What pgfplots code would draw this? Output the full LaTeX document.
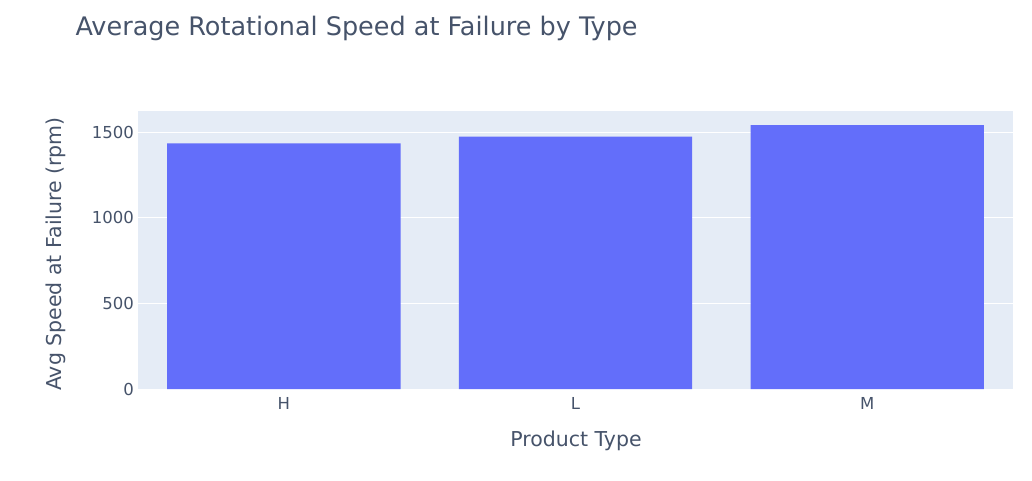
\documentclass[border=0pt]{standalone}
\usepackage{pgfplots}
\pgfplotsset{compat=1.18}
\usepackage{fontspec}
\setmainfont{DejaVu Sans}
\definecolor{plotbg}{HTML}{E5ECF6}
\definecolor{barblue}{HTML}{636EFA}
\definecolor{txt}{HTML}{46536A}
\begin{document}
\begin{tikzpicture}[x=1pt,y=1pt]
  \useasboundingbox (0,0) rectangle (1032,480);
  \begin{axis}[
    at={(138pt,91pt)}, anchor=south west,
    width=875pt, height=278pt, scale only axis,
    xmin=-0.5, xmax=2.5, ymin=0, ymax=1625,
    axis background/.style={fill=plotbg},
    axis line style={draw=none},
    major tick length=0pt,
    ymajorgrids, grid style={white, line width=1pt},
    xtick={0,1,2}, xticklabels={H,L,M},
    ytick={0,500,1000,1500},
    /pgf/number format/assume math mode=true,
    /pgf/number format/1000 sep={},
    tick label style={font=\fontsize{16.5}{19}\selectfont, text=txt},
    yticklabel style={xshift=-0.5pt},
    xticklabel style={yshift=-5pt},
  ]
    \addplot[ybar, bar width=0.8, fill=barblue, draw=none]
      coordinates {(0,1436) (1,1475) (2,1543)};
  \end{axis}
  \node[anchor=west, text=txt, font=\fontsize{25.5}{30}\selectfont] at (72,452) {Average Rotational Speed at Failure by Type};
  \node[text=txt, font=\fontsize{20.5}{24}\selectfont] at (576,39) {Product Type};
  \node[rotate=90, text=txt, font=\fontsize{20.5}{24}\selectfont] at (56,226) {Avg Speed at Failure (rpm)};
\end{tikzpicture}
\end{document}
